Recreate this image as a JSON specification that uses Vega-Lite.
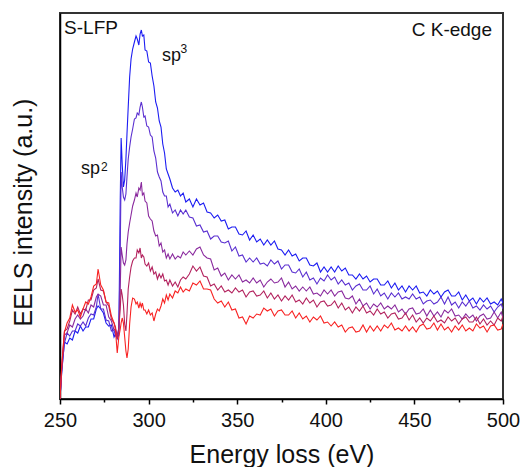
{
  "$schema": "https://vega.github.io/schema/vega-lite/v6.json",
  "width": 443,
  "height": 386,
  "autosize": {"type": "none"},
  "padding": {"left": 60, "top": 13, "right": 17, "bottom": 68},
  "background": "white",
  "config": {
    "view": {"stroke": "#333", "strokeWidth": 2},
    "font": "Liberation Sans",
    "axis": {"grid": false}
  },
  "layer": [
    {
      "data": {
        "values": [
          {"e": 250, "s1": 0, "s2": 0, "s3": 0, "s4": 0, "s5": 0},
          {"e": 251, "s1": 27, "s2": 29, "s3": 31, "s4": 33, "s5": 34},
          {"e": 252.5, "s1": 57, "s2": 56, "s3": 64, "s4": 68, "s5": 67},
          {"e": 254, "s1": 55, "s2": 66, "s3": 66, "s4": 70, "s5": 76},
          {"e": 255.5, "s1": 61, "s2": 63, "s3": 74, "s4": 78, "s5": 81},
          {"e": 257, "s1": 59, "s2": 68, "s3": 72, "s4": 89, "s5": 94},
          {"e": 258.5, "s1": 68, "s2": 68, "s3": 80, "s4": 85, "s5": 87},
          {"e": 260, "s1": 66, "s2": 75, "s3": 84, "s4": 92, "s5": 89},
          {"e": 261.5, "s1": 73, "s2": 73, "s3": 80, "s4": 85, "s5": 82},
          {"e": 263, "s1": 68, "s2": 77, "s3": 83, "s4": 90, "s5": 90},
          {"e": 264.5, "s1": 72, "s2": 73, "s3": 90, "s4": 89, "s5": 97},
          {"e": 266, "s1": 72, "s2": 81, "s3": 86, "s4": 99, "s5": 95},
          {"e": 267.5, "s1": 80, "s2": 85, "s3": 94, "s4": 99, "s5": 102},
          {"e": 269, "s1": 80, "s2": 84, "s3": 92, "s4": 109, "s5": 113},
          {"e": 270.5, "s1": 90, "s2": 92, "s3": 102, "s4": 111, "s5": 115},
          {"e": 271.5, "s1": 93, "s2": 105, "s3": 105, "s4": 120, "s5": 130},
          {"e": 273, "s1": 90, "s2": 90, "s3": 103, "s4": 109, "s5": 114},
          {"e": 274.5, "s1": 86, "s2": 90, "s3": 94, "s4": 108, "s5": 109},
          {"e": 276, "s1": 76, "s2": 79, "s3": 94, "s4": 97, "s5": 97},
          {"e": 277.5, "s1": 73, "s2": 78, "s3": 82, "s4": 93, "s5": 96},
          {"e": 279, "s1": 74, "s2": 68, "s3": 78, "s4": 80, "s5": 83},
          {"e": 280.5, "s1": 62, "s2": 69, "s3": 69, "s4": 76, "s5": 76},
          {"e": 281.3, "s1": 65, "s2": 63, "s3": 70, "s4": 72, "s5": 69},
          {"e": 282.3, "s1": 60, "s2": 62, "s3": 64, "s4": 60, "s5": 46},
          {"e": 283.2, "s1": 64, "s2": 66, "s3": 70, "s4": 72, "s5": 62},
          {"e": 284, "s1": 200, "s2": 150, "s3": 110, "s4": 90, "s5": 70},
          {"e": 284.5, "s1": 261, "s2": 227, "s3": 152, "s4": 110, "s5": 76},
          {"e": 285.1, "s1": 235, "s2": 212, "s3": 144, "s4": 104, "s5": 81},
          {"e": 285.8, "s1": 212, "s2": 202, "s3": 136, "s4": 94, "s5": 76},
          {"e": 286.5, "s1": 219, "s2": 199, "s3": 134, "s4": 75, "s5": 62},
          {"e": 287.2, "s1": 240, "s2": 205, "s3": 139, "s4": 68, "s5": 48},
          {"e": 287.8, "s1": 265, "s2": 222, "s3": 155, "s4": 85, "s5": 41},
          {"e": 288.5, "s1": 292, "s2": 240, "s3": 167, "s4": 110, "s5": 50},
          {"e": 289.3, "s1": 322, "s2": 252, "s3": 176, "s4": 122, "s5": 75},
          {"e": 290.1, "s1": 340, "s2": 262, "s3": 184, "s4": 132, "s5": 92},
          {"e": 291, "s1": 350, "s2": 270, "s3": 193, "s4": 138, "s5": 101},
          {"e": 292, "s1": 357, "s2": 280, "s3": 199, "s4": 141, "s5": 100},
          {"e": 292.9, "s1": 363, "s2": 281, "s3": 206, "s4": 141, "s5": 95},
          {"e": 293.6, "s1": 360, "s2": 286, "s3": 202, "s4": 149, "s5": 97},
          {"e": 294.5, "s1": 354, "s2": 284, "s3": 211, "s4": 146, "s5": 91},
          {"e": 295.2, "s1": 365, "s2": 292, "s3": 209, "s4": 151, "s5": 96},
          {"e": 295.9, "s1": 369, "s2": 297, "s3": 217, "s4": 141, "s5": 92},
          {"e": 296.5, "s1": 363, "s2": 292, "s3": 204, "s4": 144, "s5": 96},
          {"e": 297.3, "s1": 364, "s2": 282, "s3": 206, "s4": 142, "s5": 89},
          {"e": 298, "s1": 349, "s2": 283, "s3": 198, "s4": 135, "s5": 89},
          {"e": 299, "s1": 348, "s2": 273, "s3": 196, "s4": 133, "s5": 85},
          {"e": 300, "s1": 337, "s2": 272, "s3": 183, "s4": 136, "s5": 89},
          {"e": 301, "s1": 336, "s2": 264, "s3": 180, "s4": 128, "s5": 84},
          {"e": 302, "s1": 323, "s2": 262, "s3": 178, "s4": 132, "s5": 86},
          {"e": 303, "s1": 313, "s2": 248, "s3": 168, "s4": 125, "s5": 78},
          {"e": 304, "s1": 297, "s2": 241, "s3": 163, "s4": 127, "s5": 85},
          {"e": 305, "s1": 291, "s2": 227, "s3": 164, "s4": 120, "s5": 90},
          {"e": 306, "s1": 278, "s2": 222, "s3": 153, "s4": 125, "s5": 88},
          {"e": 307, "s1": 272, "s2": 218, "s3": 156, "s4": 121, "s5": 93},
          {"e": 308, "s1": 255, "s2": 207, "s3": 147, "s4": 125, "s5": 100},
          {"e": 309, "s1": 246, "s2": 203, "s3": 149, "s4": 118, "s5": 96},
          {"e": 310, "s1": 230, "s2": 203, "s3": 141, "s4": 119, "s5": 104},
          {"e": 311, "s1": 225, "s2": 192, "s3": 145, "s4": 114, "s5": 99},
          {"e": 312, "s1": 220, "s2": 195, "s3": 140, "s4": 119, "s5": 105},
          {"e": 313.5, "s1": 211, "s2": 186, "s3": 145, "s4": 113, "s5": 101},
          {"e": 315, "s1": 207, "s2": 189, "s3": 140, "s4": 117, "s5": 108},
          {"e": 316.5, "s1": 209, "s2": 183, "s3": 143, "s4": 112, "s5": 106},
          {"e": 318, "s1": 203, "s2": 189, "s3": 141, "s4": 119, "s5": 112},
          {"e": 319.5, "s1": 206, "s2": 185, "s3": 147, "s4": 122, "s5": 107},
          {"e": 321, "s1": 197, "s2": 189, "s3": 144, "s4": 120, "s5": 110},
          {"e": 323, "s1": 200, "s2": 182, "s3": 148, "s4": 125, "s5": 108},
          {"e": 325, "s1": 192, "s2": 181, "s3": 144, "s4": 133, "s5": 116},
          {"e": 327, "s1": 200, "s2": 173, "s3": 150, "s4": 128, "s5": 114},
          {"e": 329, "s1": 194, "s2": 174, "s3": 152, "s4": 132, "s5": 118},
          {"e": 331, "s1": 196, "s2": 167, "s3": 144, "s4": 123, "s5": 110},
          {"e": 333, "s1": 187, "s2": 168, "s3": 141, "s4": 122, "s5": 110},
          {"e": 335, "s1": 186, "s2": 160, "s3": 140, "s4": 113, "s5": 109},
          {"e": 337, "s1": 181, "s2": 163, "s3": 129, "s4": 115, "s5": 100},
          {"e": 339, "s1": 184, "s2": 163, "s3": 131, "s4": 109, "s5": 96},
          {"e": 341, "s1": 178, "s2": 157, "s3": 123, "s4": 113, "s5": 98},
          {"e": 343, "s1": 179, "s2": 156, "s3": 126, "s4": 107, "s5": 92},
          {"e": 345, "s1": 170, "s2": 158, "s3": 119, "s4": 109, "s5": 97},
          {"e": 347, "s1": 172, "s2": 148, "s3": 124, "s4": 106, "s5": 89},
          {"e": 349, "s1": 172, "s2": 152, "s3": 120, "s4": 111, "s5": 90},
          {"e": 351, "s1": 165, "s2": 143, "s3": 124, "s4": 107, "s5": 81},
          {"e": 353, "s1": 164, "s2": 144, "s3": 117, "s4": 109, "s5": 82},
          {"e": 355, "s1": 168, "s2": 137, "s3": 119, "s4": 102, "s5": 75},
          {"e": 357, "s1": 159, "s2": 141, "s3": 116, "s4": 107, "s5": 83},
          {"e": 359, "s1": 164, "s2": 137, "s3": 121, "s4": 108, "s5": 81},
          {"e": 361, "s1": 157, "s2": 141, "s3": 116, "s4": 103, "s5": 85},
          {"e": 363, "s1": 160, "s2": 135, "s3": 119, "s4": 104, "s5": 84},
          {"e": 365, "s1": 154, "s2": 136, "s3": 112, "s4": 108, "s5": 91},
          {"e": 367, "s1": 159, "s2": 133, "s3": 117, "s4": 101, "s5": 88},
          {"e": 369, "s1": 154, "s2": 139, "s3": 120, "s4": 106, "s5": 90},
          {"e": 371, "s1": 158, "s2": 135, "s3": 116, "s4": 100, "s5": 83},
          {"e": 373, "s1": 150, "s2": 138, "s3": 117, "s4": 104, "s5": 88},
          {"e": 375, "s1": 149, "s2": 130, "s3": 121, "s4": 98, "s5": 89},
          {"e": 377, "s1": 144, "s2": 134, "s3": 112, "s4": 103, "s5": 84},
          {"e": 379, "s1": 149, "s2": 134, "s3": 117, "s4": 99, "s5": 84},
          {"e": 381, "s1": 143, "s2": 127, "s3": 110, "s4": 104, "s5": 88},
          {"e": 383, "s1": 145, "s2": 126, "s3": 113, "s4": 97, "s5": 81},
          {"e": 385, "s1": 138, "s2": 130, "s3": 108, "s4": 99, "s5": 86},
          {"e": 387, "s1": 141, "s2": 122, "s3": 112, "s4": 95, "s5": 80},
          {"e": 389, "s1": 141, "s2": 127, "s3": 108, "s4": 101, "s5": 83},
          {"e": 391, "s1": 134, "s2": 119, "s3": 112, "s4": 96, "s5": 77},
          {"e": 393, "s1": 133, "s2": 121, "s3": 105, "s4": 99, "s5": 82},
          {"e": 395, "s1": 136, "s2": 115, "s3": 106, "s4": 92, "s5": 79},
          {"e": 397, "s1": 127, "s2": 121, "s3": 103, "s4": 97, "s5": 83},
          {"e": 399, "s1": 132, "s2": 118, "s3": 109, "s4": 98, "s5": 76},
          {"e": 401, "s1": 127, "s2": 124, "s3": 105, "s4": 93, "s5": 77},
          {"e": 403, "s1": 132, "s2": 119, "s3": 109, "s4": 94, "s5": 73},
          {"e": 405, "s1": 127, "s2": 122, "s3": 103, "s4": 98, "s5": 77},
          {"e": 407, "s1": 133, "s2": 115, "s3": 107, "s4": 91, "s5": 72},
          {"e": 409, "s1": 128, "s2": 119, "s3": 108, "s4": 96, "s5": 74},
          {"e": 411, "s1": 131, "s2": 114, "s3": 101, "s4": 89, "s5": 67},
          {"e": 413, "s1": 124, "s2": 116, "s3": 100, "s4": 92, "s5": 71},
          {"e": 415, "s1": 124, "s2": 109, "s3": 103, "s4": 86, "s5": 72},
          {"e": 417, "s1": 120, "s2": 113, "s3": 95, "s4": 92, "s5": 67},
          {"e": 419, "s1": 125, "s2": 115, "s3": 100, "s4": 88, "s5": 68},
          {"e": 421, "s1": 120, "s2": 109, "s3": 93, "s4": 93, "s5": 74},
          {"e": 423, "s1": 123, "s2": 109, "s3": 96, "s4": 86, "s5": 67},
          {"e": 425, "s1": 117, "s2": 113, "s3": 90, "s4": 88, "s5": 73},
          {"e": 427, "s1": 120, "s2": 105, "s3": 95, "s4": 84, "s5": 68},
          {"e": 429, "s1": 120, "s2": 110, "s3": 92, "s4": 90, "s5": 73},
          {"e": 431, "s1": 114, "s2": 103, "s3": 96, "s4": 85, "s5": 68},
          {"e": 433, "s1": 114, "s2": 106, "s3": 90, "s4": 87, "s5": 74},
          {"e": 435, "s1": 118, "s2": 100, "s3": 93, "s4": 81, "s5": 71},
          {"e": 437, "s1": 111, "s2": 106, "s3": 90, "s4": 85, "s5": 76},
          {"e": 439, "s1": 116, "s2": 102, "s3": 94, "s4": 86, "s5": 69},
          {"e": 441, "s1": 109, "s2": 106, "s3": 87, "s4": 80, "s5": 71},
          {"e": 443, "s1": 113, "s2": 100, "s3": 90, "s4": 81, "s5": 68},
          {"e": 445, "s1": 107, "s2": 102, "s3": 85, "s4": 86, "s5": 73},
          {"e": 447, "s1": 113, "s2": 100, "s3": 90, "s4": 79, "s5": 68},
          {"e": 449, "s1": 109, "s2": 105, "s3": 91, "s4": 84, "s5": 72},
          {"e": 451, "s1": 113, "s2": 100, "s3": 85, "s4": 77, "s5": 67},
          {"e": 453, "s1": 106, "s2": 102, "s3": 86, "s4": 81, "s5": 73},
          {"e": 455, "s1": 107, "s2": 95, "s3": 90, "s4": 76, "s5": 75},
          {"e": 457, "s1": 103, "s2": 98, "s3": 83, "s4": 81, "s5": 70},
          {"e": 459, "s1": 109, "s2": 99, "s3": 89, "s4": 78, "s5": 71},
          {"e": 461, "s1": 105, "s2": 95, "s3": 83, "s4": 83, "s5": 76},
          {"e": 463, "s1": 108, "s2": 97, "s3": 87, "s4": 77, "s5": 69},
          {"e": 465, "s1": 102, "s2": 102, "s3": 82, "s4": 79, "s5": 75},
          {"e": 467, "s1": 107, "s2": 95, "s3": 89, "s4": 76, "s5": 69},
          {"e": 469, "s1": 109, "s2": 102, "s3": 86, "s4": 82, "s5": 72},
          {"e": 471, "s1": 103, "s2": 94, "s3": 90, "s4": 78, "s5": 67},
          {"e": 473, "s1": 103, "s2": 97, "s3": 83, "s4": 81, "s5": 73},
          {"e": 475, "s1": 107, "s2": 91, "s3": 84, "s4": 75, "s5": 69},
          {"e": 477, "s1": 99, "s2": 97, "s3": 80, "s4": 80, "s5": 74},
          {"e": 479, "s1": 104, "s2": 93, "s3": 85, "s4": 82, "s5": 68},
          {"e": 481, "s1": 98, "s2": 98, "s3": 81, "s4": 77, "s5": 71},
          {"e": 483, "s1": 101, "s2": 91, "s3": 84, "s4": 77, "s5": 68},
          {"e": 485, "s1": 95, "s2": 93, "s3": 78, "s4": 82, "s5": 75},
          {"e": 487, "s1": 101, "s2": 89, "s3": 83, "s4": 75, "s5": 71},
          {"e": 489, "s1": 97, "s2": 94, "s3": 85, "s4": 80, "s5": 73},
          {"e": 491, "s1": 101, "s2": 90, "s3": 80, "s4": 74, "s5": 67},
          {"e": 493, "s1": 95, "s2": 93, "s3": 81, "s4": 78, "s5": 73},
          {"e": 495, "s1": 97, "s2": 87, "s3": 87, "s4": 74, "s5": 74},
          {"e": 497, "s1": 94, "s2": 92, "s3": 81, "s4": 81, "s5": 69},
          {"e": 499, "s1": 100, "s2": 95, "s3": 87, "s4": 78, "s5": 70},
          {"e": 500, "s1": 96, "s2": 90, "s3": 81, "s4": 83, "s5": 75}
        ]
      },
      "transform": [{"fold": ["s1", "s2", "s3", "s4", "s5"], "as": ["series", "intensity"]}],
      "mark": {"type": "line", "strokeWidth": 1.1, "clip": true},
      "encoding": {
        "x": {
          "field": "e",
          "type": "quantitative",
          "scale": {"domain": [250, 500], "nice": false, "zero": false},
          "axis": {
            "values": [250, 275, 300, 325, 350, 375, 400, 425, 450, 475, 500],
            "labelExpr": "datum.value % 50 === 0 ? datum.label : ''",
            "tickSize": {"condition": {"test": "datum.value % 50 === 0", "value": 5}, "value": 3},
            "tickColor": "black",
            "tickWidth": 1.5,
            "domainColor": "black",
            "domainWidth": 1.5,
            "labelFontSize": 20,
            "labelColor": "#111",
            "labelPadding": 6,
            "labelFlush": false,
            "labelOverlap": false,
            "title": "Energy loss (eV)",
            "titleFontSize": 25,
            "titleFontWeight": "normal",
            "titleColor": "#111",
            "titlePadding": 12
          }
        },
        "y": {
          "field": "intensity",
          "type": "quantitative",
          "scale": {"domain": [0, 386], "nice": false, "zero": false},
          "axis": {
            "labels": false,
            "ticks": false,
            "domainColor": "black",
            "domainWidth": 1.5,
            "title": "EELS intensity (a.u.)",
            "titleFontSize": 25,
            "titleFontWeight": "normal",
            "titleColor": "#111",
            "titlePadding": 24,
            "titleY": 199
          }
        },
        "color": {
          "field": "series",
          "type": "nominal",
          "scale": {
            "domain": ["s1", "s2", "s3", "s4", "s5"],
            "range": ["#1c1cf2", "#5a2fd0", "#8a2a9e", "#b3225e", "#f82222"]
          },
          "legend": null
        }
      }
    },
    {
      "data": {"values": [{}]},
      "mark": {"type": "text", "text": "S-LFP", "align": "left", "baseline": "alphabetic", "fontSize": 19, "color": "#111"},
      "encoding": {"x": {"datum": 252.3, "type": "quantitative"}, "y": {"datum": 365, "type": "quantitative"}}
    },
    {
      "data": {"values": [{}]},
      "mark": {"type": "text", "text": "C K-edge", "align": "right", "baseline": "alphabetic", "fontSize": 19, "color": "#111"},
      "encoding": {"x": {"datum": 493.8, "type": "quantitative"}, "y": {"datum": 363, "type": "quantitative"}}
    },
    {
      "data": {"values": [{}]},
      "mark": {"type": "text", "text": "sp", "align": "left", "baseline": "alphabetic", "fontSize": 18, "color": "#111"},
      "encoding": {"x": {"datum": 307.6, "type": "quantitative"}, "y": {"datum": 338, "type": "quantitative"}}
    },
    {
      "data": {"values": [{}]},
      "mark": {"type": "text", "text": "3", "align": "left", "baseline": "alphabetic", "fontSize": 12, "color": "#111"},
      "encoding": {"x": {"datum": 318.0, "type": "quantitative"}, "y": {"datum": 346, "type": "quantitative"}}
    },
    {
      "data": {"values": [{}]},
      "mark": {"type": "text", "text": "sp", "align": "left", "baseline": "alphabetic", "fontSize": 18, "color": "#111"},
      "encoding": {"x": {"datum": 261.85, "type": "quantitative"}, "y": {"datum": 225, "type": "quantitative"}}
    },
    {
      "data": {"values": [{}]},
      "mark": {"type": "text", "text": "2", "align": "left", "baseline": "alphabetic", "fontSize": 12, "color": "#111"},
      "encoding": {"x": {"datum": 273.1, "type": "quantitative"}, "y": {"datum": 228, "type": "quantitative"}}
    }
  ]
}
